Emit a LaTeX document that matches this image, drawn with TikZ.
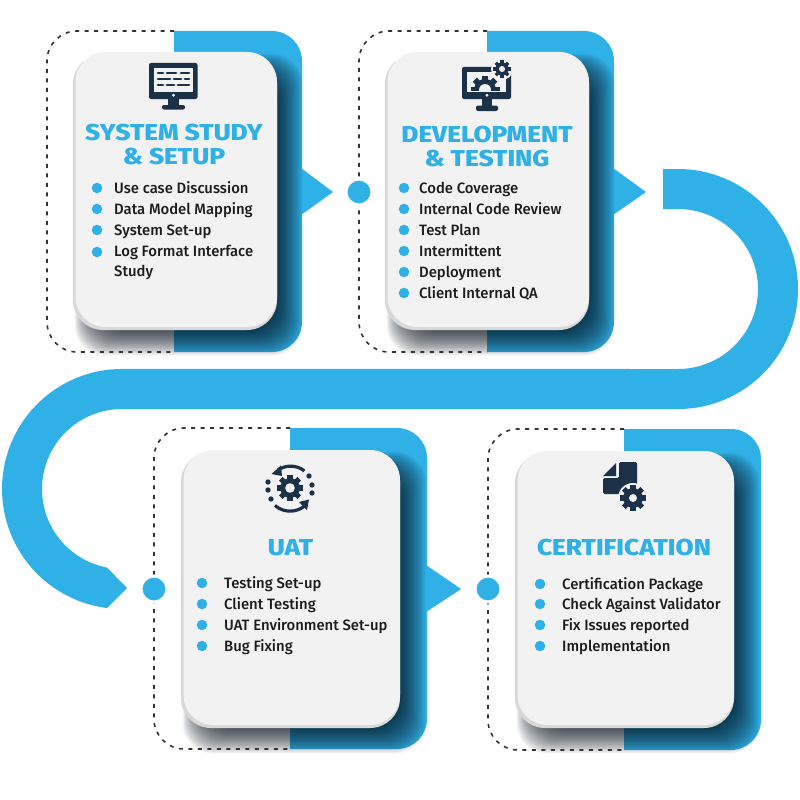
\documentclass[tikz,border=0pt]{standalone}
\usepackage{fontspec}
\setmainfont{Fira Sans Medium}[FakeStretch=0.99]
\newfontfamily\titlefont{Fira Sans ExtraBold}[FakeStretch=1.14]
\definecolor{sky}{HTML}{2FB0E6}
\definecolor{ink}{HTML}{1A3147}
\definecolor{face}{HTML}{F2F2F2}
\definecolor{rim}{HTML}{D8D8D8}
\definecolor{txt}{HTML}{1C1C1C}
\tikzset{
  panel/.style={fill=sky,draw=none},
  dashline/.style={draw=black!80,line width=1.6pt,dash pattern=on 4pt off 5.5pt},
  dotnode/.style={circle,fill=sky,draw=white,line width=3pt,minimum size=26pt,inner sep=0pt},
  bul/.style={circle,fill=sky,minimum size=10.5pt,inner sep=0pt},
  titletext/.style={text=sky,anchor=base,align=center,inner sep=0pt,font=\titlefont\fontsize{23}{24}\selectfont},
  itemtext/.style={text=txt,anchor=base west,inner sep=0pt,yshift=0.8pt,font=\fontsize{15}{15}\selectfont},
  iconfill/.style={fill=ink,draw=none}
}
% args: dash x, split x, right x, top y, bottom y, card x0, y0, x1, y1
\newcommand{\stagebg}[9]{
  \fill[panel] (#2,#4) -- ({#3-30},#4) arc (270:360:30) -- (#3,{#5-30}) arc (0:90:30) -- (#2,#5) -- cycle;
  \foreach \e in {0,1,...,32}{
    \fill[black!55!ink,opacity=.037,rounded corners={30pt}] ({#6+24-\e*0.7},{#7+24-\e*0.7}) rectangle ({#8+\e*0.8},{#9+\e*0.8});
  }
  \draw[dashline] (#2,#4) -- ({#1+30},#4) arc (270:180:30) -- (#1,{#5-30}) arc (180:90:30) -- (#2,#5);
  \fill[rim,rounded corners={30pt}] (#6,{#7+2}) rectangle (#8,#9);
  \fill[face,rounded corners={30pt}] ({#6+2.5},#7) rectangle (#8,{#9-3});
}
% gear: cx, cy, outer radius, hole radius, hole colour
\newcommand{\gearicon}[5]{
  \fill[ink] (#1,#2) circle ({#3*0.76});
  \foreach \a in {0,45,...,315}{
    \fill[ink,shift={(#1,#2)},rotate=\a] ({#3*0.6},{-#3*0.2}) rectangle (#3,{#3*0.2});
  }
  \fill[#5] (#1,#2) circle (#4);
}
\begin{document}
\begin{tikzpicture}[x=1pt,y=-1pt]
\useasboundingbox (0,0) rectangle (800,800);
\fill[white] (0,0) rectangle (800,800);
% serpentine band
\fill[panel] (663,169) -- (678,169) arc (-90:90:120) -- (122,409) arc (270:100.8:80)
  -- (127,588) -- (107,608) arc (97.2:270:120) -- (678,369) arc (90:-90:80) -- (663,209) -- cycle;
% arrows
\fill[panel] (301,168) -- (333,192) -- (301,215) -- cycle;
\fill[panel] (613,168) -- (646,192) -- (613,215) -- cycle;
\fill[panel] (426,565) -- (461,589) -- (426,612) -- cycle;
% backgrounds
\stagebg{47}{174}{302}{31}{352}{73}{52}{277}{330}
\stagebg{359}{487}{614}{31}{352}{385}{52}{589}{330}
\stagebg{154}{290}{427}{428}{749}{181}{450}{400}{728}
\stagebg{488}{624}{761}{429}{750}{515}{451}{734}{728}
% join dots
\node[dotnode] (d2) at (359,192) {};
\node[dotnode] (d3) at (154,589) {};
\node[dotnode] (d4) at (488,589) {};
% titles
\node[titletext] (t1a) at (174,140.7) {SYSTEM STUDY};
\node[titletext] (t1b) at (174,164) {\& SETUP};
\node[titletext] (t2a) at (487,142.7) {DEVELOPMENT};
\node[titletext] (t2b) at (487,166.7) {\& TESTING};
\node[titletext] (t3) at (290.5,555) {UAT};
\node[titletext] (t4) at (624,555) {CERTIFICATION};
% card 1 list
\node[bul] (b11) at (97,188) {}; \node[itemtext] (i11) at (114,194) {Use case Discussion};
\node[bul] (b12) at (97,209) {}; \node[itemtext] (i12) at (114,215) {Data Model Mapping};
\node[bul] (b13) at (97,230) {}; \node[itemtext] (i13) at (114,236) {System Set-up};
\node[bul] (b14) at (97,252) {}; \node[itemtext] (i14) at (114,257) {Log Format Interface};
\node[itemtext] (i15) at (114,277) {Study};
% card 2 list
\node[bul] (b21) at (404,188) {}; \node[itemtext] (i21) at (419,194) {Code Coverage};
\node[bul] (b22) at (404,209) {}; \node[itemtext] (i22) at (419,215) {Internal Code Review};
\node[bul] (b23) at (404,230) {}; \node[itemtext] (i23) at (419,236) {Test Plan};
\node[bul] (b24) at (404,251) {}; \node[itemtext] (i24) at (419,257) {Intermittent};
\node[bul] (b25) at (404,272) {}; \node[itemtext] (i25) at (419,278) {Deployment};
\node[bul] (b26) at (404,293) {}; \node[itemtext] (i26) at (419,299) {Client Internal QA};
% card 3 list
\node[bul] (b31) at (202,583) {}; \node[itemtext] (i31) at (224,589) {Testing Set-up};
\node[bul] (b32) at (202,604) {}; \node[itemtext] (i32) at (224,610) {Client Testing};
\node[bul] (b33) at (202,625) {}; \node[itemtext] (i33) at (224,631) {UAT Environment Set-up};
\node[bul] (b34) at (202,646) {}; \node[itemtext] (i34) at (224,652) {Bug Fixing};
% card 4 list
\node[bul] (b41) at (540,584) {}; \node[itemtext] (i41) at (562,590) {Certification Package};
\node[bul] (b42) at (540,604) {}; \node[itemtext] (i42) at (562,610) {Check Against Validator};
\node[bul] (b43) at (540,625) {}; \node[itemtext] (i43) at (562,631) {Fix Issues reported};
\node[bul] (b44) at (540,646) {}; \node[itemtext] (i44) at (562,652) {Implementation};
% icon 1: monitor with text rows
\fill[iconfill,rounded corners=2pt] (149,63) rectangle (197.5,99);
\fill[face] (154,68) rectangle (193,92);
\fill[face] (173.5,95.3) circle (1.6);
\fill[iconfill] (168,99) rectangle (179,106);
\fill[iconfill,rounded corners=2pt] (162,105) rectangle (185,109.5);
\foreach \xa/\xb/\yy in {157/164/73,166/177/73,180/190/73,157/171/79,173/182/79,184/190/79,157/164/85,166/175/85,177/190/85}{
  \draw[ink,line width=2.8pt,line cap=round] ({\xa+1},\yy) -- ({\xb-1},\yy);
}
% icon 2: monitor with gears
\fill[iconfill,rounded corners=2pt] (462,67) rectangle (511,99);
\fill[face] (467,72) rectangle (506,92);
\fill[face] (487,95.3) circle (1.6);
\fill[iconfill] (482,99) rectangle (492,106);
\fill[iconfill,rounded corners=2pt] (476,105.5) rectangle (498,111);
\fill[face] (502,69) circle (11);
\gearicon{502}{69}{8.7}{3}{face}
\begin{scope}
  \clip (465,70) rectangle (508,90);
  \gearicon{485}{90}{14.5}{6}{face}
\end{scope}
% icon 3: gear with cycle arrows
\gearicon{290}{488}{13}{4.8}{face}
\draw[ink,line width=3.2pt] (278,470) arc (236:308:22.5);
\draw[ink,line width=3.2pt] (275,505.5) arc (131:50:23);
\fill[iconfill] (271.5,474) -- (281,465.5) -- (282,476) -- cycle;
\fill[iconfill] (309,499.5) -- (299,502) -- (307,510) -- cycle;
\foreach \px/\py in {309/476,312/485,312/493,268/482,268/490,271/499}{
  \fill[ink] (\px,\py) circle (2.7);
}
% icon 4: document with gear
\fill[iconfill,rounded corners=1.5pt] (619,462) -- (637,462) -- (637,492) -- (620,494) -- (603,494) -- (603,478) -- (619,478) -- cycle;
\fill[iconfill] (616,463) -- (616,476) -- (603,476) -- cycle;
\fill[face] (633,498) circle (15);
\gearicon{633}{498}{13}{4}{face}
\end{tikzpicture}
\end{document}
